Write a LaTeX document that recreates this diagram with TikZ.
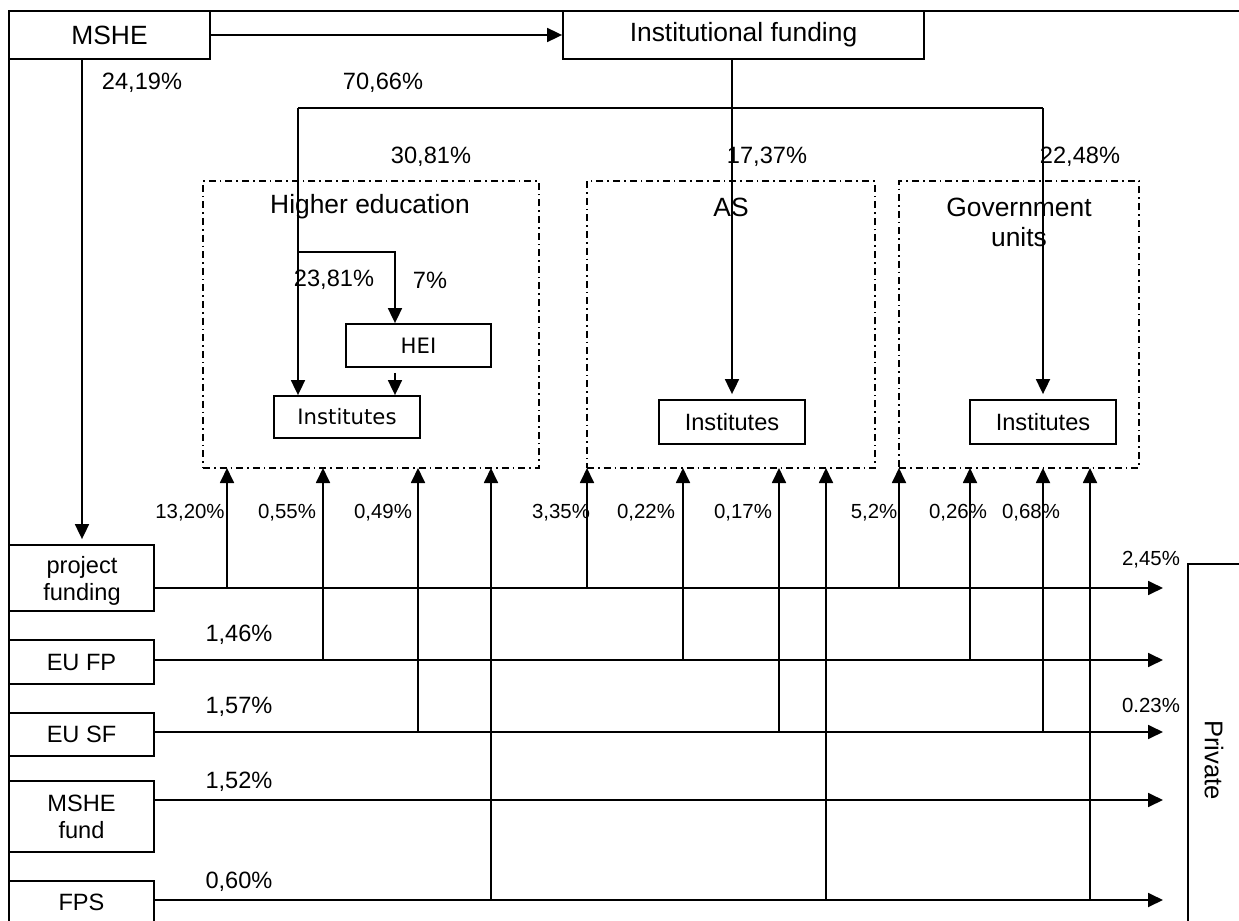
\documentclass[tikz,border=0pt]{standalone}
\usepackage{fontspec}
\setmainfont{Liberation Sans}
\newfontfamily\dejavu{DejaVu Sans}
\usetikzlibrary{arrows.meta,fit}
\begin{document}
\begin{tikzpicture}[x=0.5pt,y=-0.5pt,
  box/.style={draw,line width=0.9pt,inner sep=0pt},
  grp/.style={draw,line width=0.7pt,dash pattern=on 3.5pt off 2pt on 0.8pt off 2pt,inner sep=0pt},
  arr/.style={line width=0.9pt,-{Triangle[length=7.5pt,width=7pt]}},
  ln/.style={line width=0.9pt},
  big/.style={font=\fontsize{13.2}{15}\selectfont},
  mid/.style={font=\fontsize{11.8}{13.5}\selectfont},
  sm/.style={font=\fontsize{10.2}{12}\selectfont},
  dv/.style={font=\dejavu\fontsize{10.6}{12}\selectfont},
  lbl/.style={inner sep=0pt,align=center}
]
\useasboundingbox (0,0) rectangle (1239,921);
% outer frame
\draw[ln] (9,940) -- (9,11) -- (1260,11);
% top boxes
\node[box,fit={(9,11)(210,59)}] (mshe) {};
\node[big,lbl] (mshet) at (mshe.center) {MSHE};
\node[box,fit={(563,11)(924,59)}] (inst) {};
\node[big,lbl] (instt) at (inst.center) {Institutional funding};
% groups
\node[grp,fit={(203,181)(539,468)}] (he) {};
\node[grp,fit={(587,181)(875,468)}] (as) {};
\node[grp,fit={(899,181)(1139,468)}] (gov) {};
\node[big,lbl] (het) at (370,207) {Higher education};
\node[big,lbl] (ast) at (731,207) {AS};
\node[big,lbl] (govt) at (1019,222) {Government\\units};
% inner boxes
\node[box,fit={(346,324)(491,367)}] (hei) {};
\node[dv,lbl] (heit) at (hei.center) {HEI};
\node[box,fit={(274,396)(420,438)}] (heinst) {};
\node[dv,lbl] (heinstt) at (heinst.center) {Institutes};
\node[box,fit={(659,400)(805,444)}] (asinst) {};
\node[mid,lbl] (asinstt) at (asinst.center) {Institutes};
\node[box,fit={(970,400)(1116,444)}] (govinst) {};
\node[mid,lbl] (govinstt) at (govinst.center) {Institutes};
% left column
\node[box,fit={(9,545)(154,611)}] (pf) {};
\node[mid,lbl] (pft) at (82,581) {project\\funding};
\node[box,fit={(9,640)(154,684)}] (eufp) {};
\node[mid,lbl] (eufpt) at (eufp.center) {EU FP};
\node[box,fit={(9,713)(154,756)}] (eusf) {};
\node[mid,lbl] (eusft) at (eusf.center) {EU SF};
\node[box,fit={(9,781)(154,852)}] (mshef) {};
\node[mid,lbl] (msheft) at (mshef.center) {MSHE\\fund};
\node[box,fit={(9,881)(154,924)}] (fps) {};
\node[mid,lbl] (fpst) at (fps.center) {FPS};
% private
\node[box,fit={(1188,564)(1270,950)}] (priv) {};
\node[lbl,rotate=-90,font=\fontsize{12.8}{14}\selectfont] (privt) at (1214,760) {Private};
% coordinates
\coordinate (mx) at (82,0);
\coordinate (t1) at (298,108);
\coordinate (t2) at (1043,108);
\coordinate (b2) at (395,252);
\coordinate (e1) at (1163,588);
\coordinate (e2) at (1163,660);
\coordinate (e3) at (1163,732);
\coordinate (e4) at (1163,800);
\coordinate (e5) at (1163,900);
\coordinate (v1) at (227,468);
\coordinate (v2) at (323,468);
\coordinate (v3) at (418,468);
\coordinate (v4) at (491,468);
\coordinate (v5) at (587,468);
\coordinate (v6) at (683,468);
\coordinate (v7) at (779,468);
\coordinate (v8) at (826,468);
\coordinate (v9) at (899,468);
\coordinate (v10) at (970,468);
\coordinate (v11) at (1043,468);
\coordinate (v12) at (1090,468);
% top connectors
\draw[arr] (mshe.east) -- (inst.west);
\draw[arr,shorten >=2.5pt] (mshe.south -| mx) -- (pf.north -| mx);
\draw[arr,shorten >=2.5pt] (inst.south -| asinst.north) -- (asinst.north);
\draw[ln] (t1) -- (t2);
\draw[arr] (t1) -- (t1 |- heinst.north);
\draw[arr,shorten >=2.5pt] (t2) -- (govinst.north);
\draw[arr] (t1 |- b2) -- (b2) -- (b2 |- hei.north);
\draw[arr,shorten <=2.5pt] (b2 |- hei.south) -- (b2 |- heinst.north);
% horizontal flows
\draw[arr] (pf.east |- e1) -- (e1);
\draw[arr] (eufp.east |- e2) -- (e2);
\draw[arr] (eusf.east |- e3) -- (e3);
\draw[arr] (mshef.east |- e4) -- (e4);
\draw[arr] (fps.east |- e5) -- (e5);
% vertical flows
\draw[arr] (v1 |- e1) -- (v1);
\draw[arr] (v2 |- e2) -- (v2);
\draw[arr] (v3 |- e3) -- (v3);
\draw[arr] (v4 |- e5) -- (v4);
\draw[arr] (v5 |- e1) -- (v5);
\draw[arr] (v6 |- e2) -- (v6);
\draw[arr] (v7 |- e3) -- (v7);
\draw[arr] (v8 |- e5) -- (v8);
\draw[arr] (v9 |- e1) -- (v9);
\draw[arr] (v10 |- e2) -- (v10);
\draw[arr] (v11 |- e3) -- (v11);
\draw[arr] (v12 |- e5) -- (v12);
% labels
\node[mid,lbl] (l1) at (142,83) {24,19\%};
\node[mid,lbl] (l2) at (383,83) {70,66\%};
\node[mid,lbl] (l3) at (431,157) {30,81\%};
\node[mid,lbl] (l4) at (767,157) {17,37\%};
\node[mid,lbl] (l5) at (1080,157) {22,48\%};
\node[mid,lbl] (l6) at (334,280) {23,81\%};
\node[mid,lbl] (l7) at (430,280) {7\%};
\node[sm,lbl] (l8) at (190,513) {13,20\%};
\node[sm,lbl] (l9) at (287,513) {0,55\%};
\node[sm,lbl] (l10) at (383,513) {0,49\%};
\node[sm,lbl] (l11) at (561,513) {3,35\%};
\node[sm,lbl] (l12) at (646,513) {0,22\%};
\node[sm,lbl] (l13) at (743,513) {0,17\%};
\node[sm,lbl] (l14) at (874,513) {5,2\%};
\node[sm,lbl] (l15) at (958,513) {0,26\%};
\node[sm,lbl] (l16) at (1031,513) {0,68\%};
\node[sm,lbl] (l17) at (1151,560) {2,45\%};
\node[sm,lbl] (l18) at (1151,705) {0.23\%};
\node[mid,lbl] (l19) at (239,635) {1,46\%};
\node[mid,lbl] (l20) at (239,707) {1,57\%};
\node[mid,lbl] (l21) at (239,782) {1,52\%};
\node[mid,lbl] (l22) at (239,882) {0,60\%};
\end{tikzpicture}
\end{document}
